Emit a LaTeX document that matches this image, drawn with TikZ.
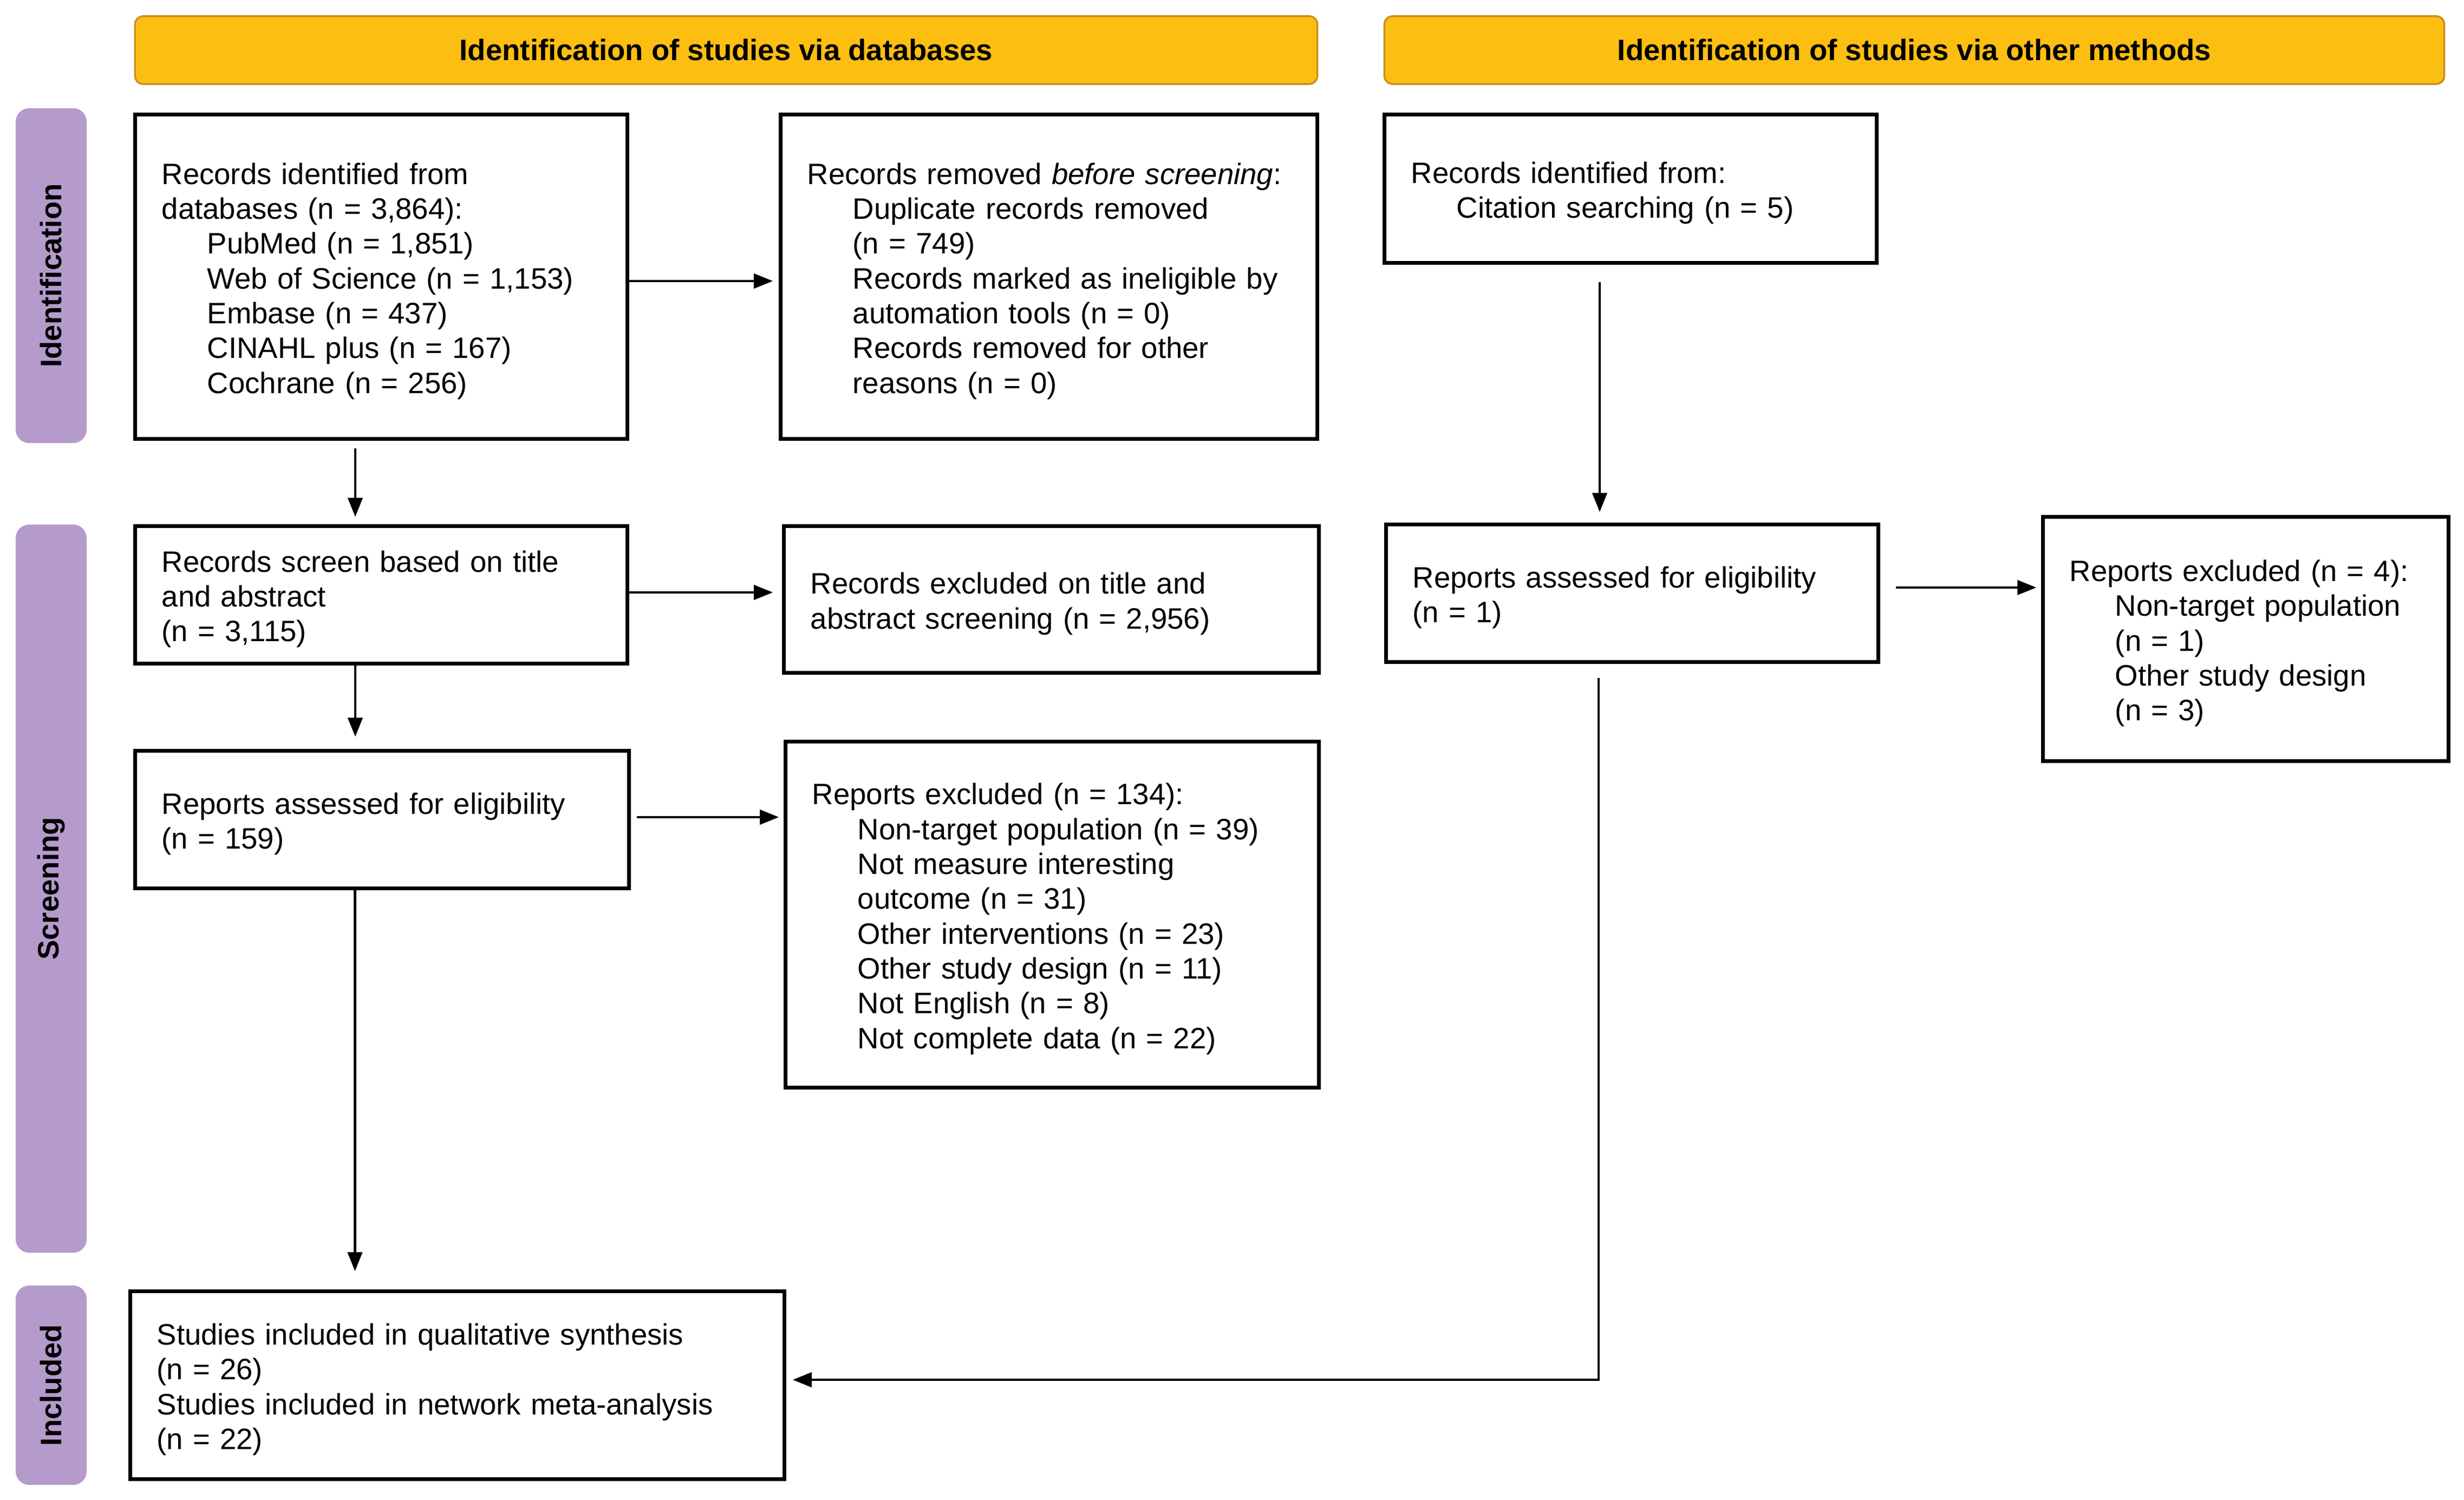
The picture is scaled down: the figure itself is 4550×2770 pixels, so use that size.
\documentclass[tikz,border=0pt]{standalone}
\usepackage{fontspec}
\setmainfont{Liberation Sans}
\usetikzlibrary{arrows.meta,calc}
\definecolor{gold}{RGB}{253,190,18}
\definecolor{golddark}{RGB}{200,145,30}
\definecolor{lav}{RGB}{181,154,204}
\newcommand{\myind}{\hspace*{0.84cm}}
\tikzset{
  boxtxt/.style={font=\fontsize{15.5}{18.3}\selectfont},
  box/.style={boxtxt, draw=black, line width=2pt, fill=white, align=left,
    inner xsep=0.49cm, inner ysep=0pt, anchor=center,
    execute at end node={\par\vspace*{-0.16cm}}},
  hdr/.style={draw=golddark, line width=1pt, fill=gold, rounded corners=0.15cm,
    font=\bfseries\fontsize{15.5}{18.3}\selectfont, inner sep=0pt, align=center},
  side/.style={fill=lav, rounded corners=0.25cm, inner sep=0pt, rotate=90,
    font=\bfseries\fontsize{15.5}{18.3}\selectfont},
  arr/.style={-{Triangle[length=0.35cm,width=0.27cm]}, line width=1.2pt}
}
\begin{document}
\begin{tikzpicture}[x=0.01cm,y=-0.01cm]
\useasboundingbox (0,0) rectangle (4550,2770);

% headers
\node[hdr, minimum width=21.82cm, minimum height=1.25cm] (h1) at (1341,92.5) {Identification of studies via databases};
\node[hdr, minimum width=19.56cm, minimum height=1.25cm] (h2) at (3535,92.5) {Identification of studies via other methods};

% side bars
\node[side, minimum width=6.18cm, minimum height=1.31cm] (s1) at (94.5,509) {Identification};
\node[side, minimum width=13.44cm, minimum height=1.31cm] (s2) at (94.5,1641) {Screening};
\node[side, minimum width=3.68cm, minimum height=1.31cm] (s3) at (94.5,2558) {Included};

% boxes
\node[box, minimum width=9.08cm, minimum height=5.98cm, text width=8.10cm] (b1) at (704,511)
{Records identified from\\databases (n = 3,864):\\\myind PubMed (n = 1,851)\\\myind Web of Science (n = 1,153)\\\myind Embase (n = 437)\\\myind CINAHL plus (n = 167)\\\myind Cochrane (n = 256)};

\node[box, minimum width=9.90cm, minimum height=5.98cm, text width=8.92cm] (b2) at (1937,511)
{Records removed \textit{before screening}:\\\myind Duplicate records removed\\\myind (n = 749)\\\myind Records marked as ineligible by\\\myind automation tools (n = 0)\\\myind Records removed for other\\\myind reasons (n = 0)};

\node[box, minimum width=9.08cm, minimum height=2.53cm, text width=8.10cm] (b3) at (704,1098.5)
{Records screen based on title\\and abstract\\(n = 3,115)};

\node[box, minimum width=9.87cm, minimum height=2.70cm, text width=8.89cm] (b4) at (1941.5,1107)
{Records excluded on title and\\abstract screening (n = 2,956)};

\node[box, minimum width=9.11cm, minimum height=2.53cm, text width=8.13cm] (b5) at (705.5,1513.5)
{Reports assessed for eligibility\\(n = 159)};

\node[box, minimum width=9.84cm, minimum height=6.38cm, text width=8.86cm] (b6) at (1943,1689)
{Reports excluded (n = 134):\\\myind Non-target population (n = 39)\\\myind Not measure interesting\\\myind outcome (n = 31)\\\myind Other interventions (n = 23)\\\myind Other study design (n = 11)\\\myind Not English (n = 8)\\\myind Not complete data (n = 22)};

\node[box, minimum width=12.07cm, minimum height=3.46cm, text width=11.09cm] (b7) at (844.5,2558)
{Studies included in qualitative synthesis\\(n = 26)\\Studies included in network meta-analysis\\(n = 22)};

\node[box, minimum width=9.08cm, minimum height=2.73cm, text width=8.10cm] (b8) at (3011,348.5)
{Records identified from:\\\myind Citation searching (n = 5)};

\node[box, minimum width=9.08cm, minimum height=2.53cm, text width=8.10cm] (b9) at (3014,1095.5)
{Reports assessed for eligibility\\(n = 1)};

\node[box, minimum width=7.48cm, minimum height=4.50cm, text width=6.50cm] (b10) at (4147,1180)
{Reports excluded (n = 4):\\\myind Non-target population\\\myind (n = 1)\\\myind Other study design\\\myind (n = 3)};

% connectors
\coordinate (a12) at ($(b1.east)+(0,8)$);
\draw[arr, shorten >=0.11cm] (a12) -- (a12 -| b2.west);
\coordinate (a13) at ($(b1.south)+(-48,14)$);
\draw[arr, shorten >=0.14cm] (a13) -- (a13 |- b3.north);
\coordinate (a34) at ($(b3.east)+(0,-4.5)$);
\draw[arr, shorten >=0.17cm] (a34) -- (a34 -| b4.west);
\coordinate (a35) at ($(b3.south)+(-48,0)$);
\draw[arr, shorten >=0.23cm] (a35) -- (a35 |- b5.north);
\coordinate (a56) at ($(b5.east)+(11,-4.5)$);
\draw[arr, shorten >=0.09cm] (a56) -- (a56 -| b6.west);
\coordinate (a57) at ($(b5.south)+(-50,0)$);
\draw[arr, shorten >=0.34cm] (a57) -- (a57 |- b7.north);
\coordinate (a89) at ($(b8.south)+(-57,32)$);
\draw[arr, shorten >=0.20cm] (a89) -- (a89 |- b9.north);
\coordinate (a910) at ($(b9.east)+(29,-10.5)$);
\draw[arr, shorten >=0.09cm] (a910) -- (a910 -| b10.west);
\coordinate (a97) at ($(b9.south)+(-62,26)$);
\coordinate (c7) at ($(b7.east)+(0,-10)$);
\draw[arr, shorten >=0.12cm] (a97) |- (c7);
\end{tikzpicture}
\end{document}
